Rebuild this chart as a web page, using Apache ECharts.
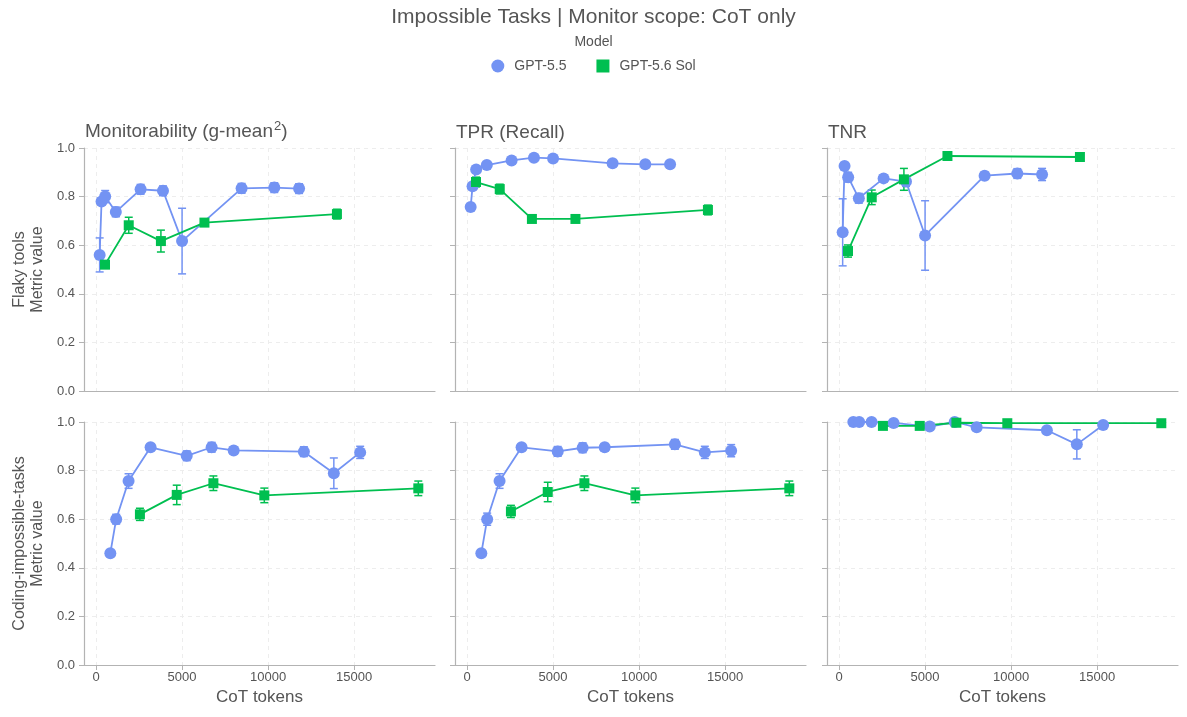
<!DOCTYPE html>
<html>
<head>
<meta charset="utf-8">
<title>Impossible Tasks</title>
<script src="https://cdn.jsdelivr.net/npm/echarts@6/dist/echarts.min.js"></script>
<style>
  html, body { margin: 0; padding: 0; background: #fff; }
  #chart { width: 1187px; height: 717px; }
</style>
</head>
<body>
<div id="chart"></div>
<script>
// CoT tokens per run, shared by the three metrics of one task row
var flakyX55 = [210, 320, 530, 1150, 2590, 3890, 5000, 8460, 10360, 11800];
var flakyXSol = [520, 1900, 3770, 6300, 14000];
var codingX55 = [830, 1170, 1890, 3170, 5270, 6720, 8000, 12080, 13820, 15350];
var codingXSol = [2550, 4690, 6820, 9780, 18730];

// Flaky tools
var flakyMon55 = [0.56, 0.78, 0.80, 0.737, 0.83, 0.824, 0.617, 0.834, 0.837, 0.833];
var flakyMon55Err = [0.07, 0.015, 0.025, 0.02, 0.02, 0.02, 0.135, 0.02, 0.02, 0.02];
var flakyMonSol = [0.52, 0.682, 0.617, 0.693, 0.728];
var flakyMonSolErr = [0.015, 0.033, 0.045, 0.01, 0.02];

var flakyTpr55 = [0.757, 0.843, 0.912, 0.93, 0.949, 0.96, 0.957, 0.937, 0.933, 0.933];
var flakyTpr55Err = [0.004, 0.004, 0.004, 0.004, 0.004, 0.004, 0.004, 0.004, 0.004, 0.004];
var flakyTprSol = [0.86, 0.831, 0.708, 0.708, 0.745];
var flakyTprSolErr = [0.02, 0.02, 0.01, 0.01, 0.02];

var flakyTnr55 = [0.653, 0.926, 0.88, 0.793, 0.875, 0.862, 0.64, 0.886, 0.895, 0.891];
var flakyTnr55Err = [0.138, 0.012, 0.02, 0.02, 0.015, 0.02, 0.143, 0.015, 0.02, 0.025];
var flakyTnrSol = [0.576, 0.797, 0.871, 0.967, 0.963];
var flakyTnrSolErr = [0.025, 0.03, 0.045, 0.005, 0.005];

// Coding-impossible-tasks
var codingMon55 = [0.46, 0.60, 0.757, 0.896, 0.861, 0.896, 0.883, 0.878, 0.789, 0.875];
var codingMon55Err = [0.005, 0.02, 0.03, 0.012, 0.02, 0.02, 0.015, 0.02, 0.063, 0.025];
var codingMonSol = [0.62, 0.70, 0.748, 0.698, 0.727];
var codingMonSolErr = [0.025, 0.04, 0.03, 0.03, 0.03];

var codingTpr55 = [0.46, 0.60, 0.757, 0.896, 0.879, 0.894, 0.896, 0.908, 0.875, 0.882];
var codingTpr55Err = [0.005, 0.025, 0.03, 0.012, 0.02, 0.02, 0.015, 0.02, 0.025, 0.025];
var codingTprSol = [0.632, 0.712, 0.748, 0.698, 0.727];
var codingTprSolErr = [0.025, 0.04, 0.03, 0.03, 0.03];

var codingTnr55 = [1.0, 1.0, 1.0, 0.996, 0.981, 1.0, 0.978, 0.966, 0.908, 0.988];
var codingTnr55Err = [0, 0, 0, 0.004, 0.005, 0, 0.005, 0.006, 0.06, 0.005];
var codingTnrSol = [0.984, 0.984, 0.997, 0.995, 0.995];
var codingTnrSolErr = [0.005, 0.005, 0.003, 0.004, 0.004];

var xTicks = [0, 5000, 10000, 15000];

var models = ['GPT-5.5', 'GPT-5.6 Sol'];
var colors = ['#7393F3', '#00BF50'];
var fontFamily = '"Liberation Sans", Arial, sans-serif';
var textColor = '#555555';
var axisColor = '#b3b3b3';

// panel order: top row left->right, bottom row left->right
var panels = [
    [flakyX55, flakyMon55, flakyMon55Err, flakyXSol, flakyMonSol, flakyMonSolErr],
    [flakyX55, flakyTpr55, flakyTpr55Err, flakyXSol, flakyTprSol, flakyTprSolErr],
    [flakyX55, flakyTnr55, flakyTnr55Err, flakyXSol, flakyTnrSol, flakyTnrSolErr],
    [codingX55, codingMon55, codingMon55Err, codingXSol, codingMonSol, codingMonSolErr],
    [codingX55, codingTpr55, codingTpr55Err, codingXSol, codingTprSol, codingTprSolErr],
    [codingX55, codingTnr55, codingTnr55Err, codingXSol, codingTnrSol, codingTnrSolErr]
];

var lefts = [84, 455, 827];
var tops = [148, 422];

function zip(xs, ys) {
    return xs.map(function (x, i) { return [x, ys[i]]; });
}

function zipErr(xs, ys, es) {
    return xs.map(function (x, i) { return [x, ys[i] - es[i], ys[i] + es[i]]; });
}

function renderErr(params, api) {
    var x = api.value(0);
    var top = api.coord([x, api.value(2)]);
    var bot = api.coord([x, api.value(1)]);
    var w = 4;
    var style = { stroke: api.visual('color'), lineWidth: 1.5 };
    return {
        type: 'group',
        children: [
            { type: 'line', shape: { x1: top[0], y1: top[1], x2: bot[0], y2: bot[1] }, style: style },
            { type: 'line', shape: { x1: top[0] - w, y1: top[1], x2: top[0] + w, y2: top[1] }, style: style },
            { type: 'line', shape: { x1: bot[0] - w, y1: bot[1], x2: bot[0] + w, y2: bot[1] }, style: style }
        ]
    };
}

var grid = [], xAxis = [], yAxis = [], series = [];

panels.forEach(function (p, i) {
    var row = Math.floor(i / 3), col = i % 3;
    grid.push({ left: lefts[col], top: tops[row], width: 351, height: 243, containLabel: false });

    xAxis.push({
        type: 'value',
        gridIndex: i,
        min: -700,
        max: 19700,
        name: row === 1 ? 'CoT tokens' : '',
        nameLocation: 'middle',
        nameGap: 24,
        nameTextStyle: { fontFamily: fontFamily, fontSize: 17, color: textColor },
        axisLine: { show: true, onZero: false, lineStyle: { color: axisColor, width: 1.2 } },
        axisTick: { show: row === 1, length: 5, customValues: xTicks, lineStyle: { color: axisColor } },
        axisLabel: {
            show: row === 1, customValues: xTicks, margin: 6,
            fontFamily: fontFamily, fontSize: 13, color: textColor,
            formatter: function (v) { return String(v); }
        },
        splitLine: { show: true, customValues: xTicks, lineStyle: { color: '#ededed', type: [4, 4] } }
    });

    yAxis.push({
        type: 'value',
        gridIndex: i,
        min: 0,
        max: 1,
        interval: 0.2,
        name: col === 0 ? (row === 0 ? 'Flaky tools\nMetric value' : 'Coding-impossible-tasks\nMetric value') : '',
        nameLocation: 'middle',
        nameGap: 37,
        nameTextStyle: { fontFamily: fontFamily, fontSize: 16, color: textColor, lineHeight: 18 },
        axisLine: { show: true, onZero: false, lineStyle: { color: axisColor, width: 1.2 } },
        axisTick: { show: true, length: 5, lineStyle: { color: axisColor } },
        axisLabel: {
            show: col === 0, margin: 9,
            fontFamily: fontFamily, fontSize: 13, color: textColor,
            formatter: function (v) { return v.toFixed(1); }
        },
        splitLine: { show: true, lineStyle: { color: '#ededed', type: [4, 4] } }
    });

    [0, 1].forEach(function (m) {
        var xs = p[m * 3], ys = p[m * 3 + 1], es = p[m * 3 + 2];
        series.push({
            name: models[m] + ' err',
            type: 'custom',
            xAxisIndex: i,
            yAxisIndex: i,
            renderItem: renderErr,
            itemStyle: { color: colors[m] },
            encode: { x: 0, y: [1, 2] },
            data: zipErr(xs, ys, es),
            clip: true,
            silent: true,
            z: 1
        });
        series.push({
            name: models[m],
            type: 'line',
            xAxisIndex: i,
            yAxisIndex: i,
            data: zip(xs, ys),
            symbol: m === 0 ? 'circle' : 'rect',
            symbolSize: m === 0 ? 12 : 10,
            showAllSymbol: true,
            color: colors[m],
            lineStyle: { width: 1.8, color: colors[m] },
            itemStyle: { color: colors[m] },
            z: 2
        });
    });
});

var option = {
    backgroundColor: '#ffffff',
    animation: false,
    title: [
        {
            text: 'Impossible Tasks | Monitor scope: CoT only',
            left: 'center', top: 7, padding: 0,
            textStyle: { fontFamily: fontFamily, fontSize: 21, fontWeight: 'normal', color: textColor }
        },
        {
            text: 'Model',
            left: 'center', top: 35, padding: 0,
            textStyle: { fontFamily: fontFamily, fontSize: 14, fontWeight: 'normal', color: textColor }
        },
        {
            text: '{a|Monitorability (g-mean}{s|2}{a|)}',
            left: 85, top: 120, padding: 0,
            textStyle: {
                fontWeight: 'normal',
                rich: {
                    a: { fontFamily: fontFamily, fontSize: 19, fontWeight: 'normal', color: textColor, verticalAlign: 'bottom' },
                    s: { fontFamily: fontFamily, fontSize: 13, fontWeight: 'normal', color: textColor, verticalAlign: 'top', padding: [0, 0, 8, 1] }
                }
            }
        },
        {
            text: 'TPR (Recall)', left: 456, top: 123, padding: 0,
            textStyle: { fontFamily: fontFamily, fontSize: 19, fontWeight: 'normal', color: textColor }
        },
        {
            text: 'TNR', left: 828, top: 123, padding: 0,
            textStyle: { fontFamily: fontFamily, fontSize: 19, fontWeight: 'normal', color: textColor }
        }
    ],
    legend: {
        top: 54,
        left: 'center',
        itemWidth: 13,
        itemHeight: 13,
        itemGap: 30,
        data: [
            { name: 'GPT-5.5', icon: 'circle' },
            { name: 'GPT-5.6 Sol', icon: 'rect' }
        ],
        textStyle: { fontFamily: fontFamily, fontSize: 14, color: textColor, padding: [0, 0, 0, 5] }
    },
    grid: grid,
    xAxis: xAxis,
    yAxis: yAxis,
    series: series
};

var myChart = echarts.init(document.getElementById('chart'));
myChart.setOption(option);
</script>
</body>
</html>
